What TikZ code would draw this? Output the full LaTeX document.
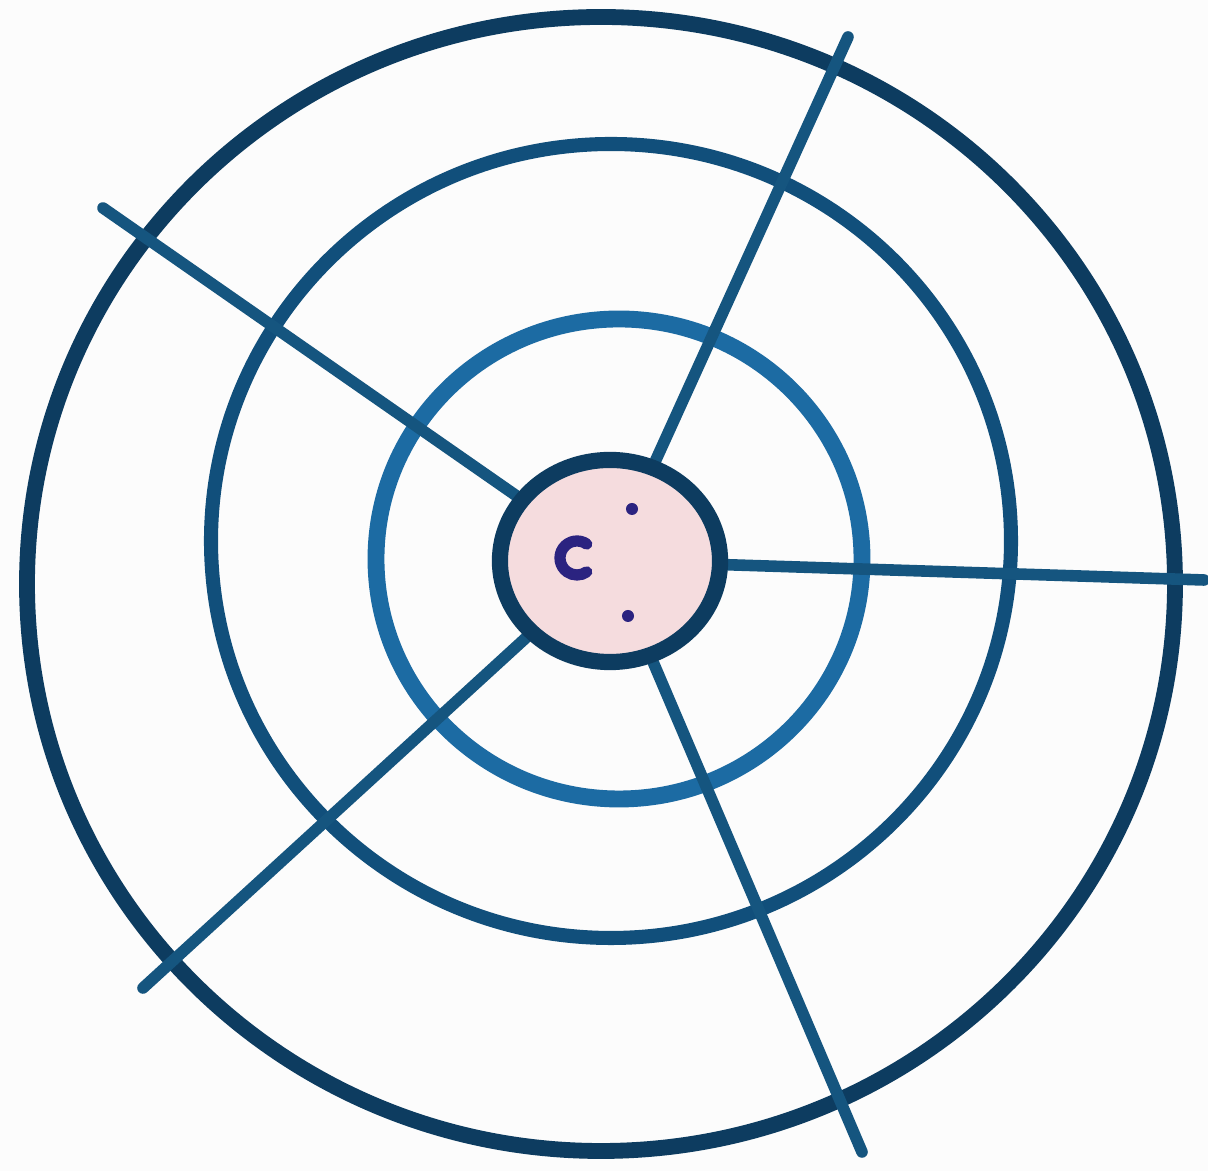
\documentclass[tikz,border=0pt]{standalone}
\usepackage{xcolor}
\usetikzlibrary{shapes.geometric,backgrounds}
\definecolor{ringdark}{HTML}{0D3C60}
\definecolor{ringmid}{HTML}{114F7B}
\definecolor{ringlight}{HTML}{1C6BA3}
\definecolor{spokeblue}{HTML}{15557F}
\definecolor{hubpink}{HTML}{F5DCDE}
\definecolor{faceink}{HTML}{2B2380}
\definecolor{paper}{HTML}{FCFCFC}
\tikzset{
  ring/.style={line width=#1, line cap=round},
  spoke/.style={draw=spokeblue, line width=3.3pt, line cap=round},
  hub/.style={ellipse, draw=ringdark, fill=hubpink, line width=4.6pt,
              minimum width=2.2cm, minimum height=2.02cm, inner sep=0pt},
  dot/.style={circle, fill=faceink, inner sep=0pt, minimum size=0.12cm}
}
\begin{document}
\begin{tikzpicture}[x=0.01cm,y=-0.01cm]
  \useasboundingbox (0,0) rectangle (1208,1171);

  % centre
  \node[hub] (hub) at (610,561) {};

  % spoke ends
  \coordinate (endnw) at (103,208);
  \coordinate (endne) at (848,37);
  \coordinate (ende)  at (1204,580);
  \coordinate (endse) at (862,1152);
  \coordinate (endsw) at (143,988);

  \begin{scope}[on background layer]
    \fill[paper] (0,0) rectangle (1208,1171);
    % rings
    \draw[ringdark, ring=4.5pt] (601,584) ellipse [x radius=574, y radius=567];
    \draw[ringmid, ring=4pt] (611,541) ellipse [x radius=400, y radius=397];
    \draw[ringlight, ring=4.8pt] (619,559) ellipse [x radius=243, y radius=240];
    % spokes
    \draw[spoke] (hub) -- (endnw);
    \draw[spoke] (hub) -- (endne);
    \draw[spoke] (hub) -- (ende);
    \draw[spoke] (hub) -- (endse);
    \draw[spoke] (hub) -- (endsw);
  \end{scope}

  % face
  \node[dot] (eyeup) at (632,509) {};
  \node[dot] (eyedown) at (628,616) {};
  \draw[faceink, line width=3.2pt, line cap=round]
    (577,558) ++(-55:17) arc[start angle=-55, end angle=-305, radius=17];
\end{tikzpicture}
\end{document}
